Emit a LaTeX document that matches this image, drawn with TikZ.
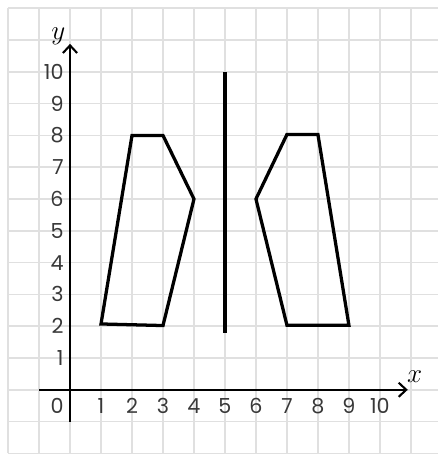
\documentclass[tikz,border=0pt]{standalone}
\usepackage{fontspec}
\setsansfont{Poppins}
\usetikzlibrary{arrows.meta}

\begin{document}
\begin{tikzpicture}[
    x=1cm, y=1.026cm,
    font=\sffamily\fontsize{19}{22}\selectfont,
    gridline/.style={draw=black!12, line width=1.4pt},
    axisline/.style={line width=1.9pt,
      -{Straight Barb[length=7pt,width=13pt,line width=1.9pt]}},
    shapeline/.style={line width=3pt, line join=miter},
    ticklabel/.style={text=black!78, inner sep=0pt},
    axisname/.style={font=\fontsize{26}{30}\selectfont, inner sep=0pt},
]
\useasboundingbox (-2.26,-2.02) rectangle (11.87,12.26);

% ---- grid ----
\foreach \i in {-2,...,11}{
  \draw[gridline] (\i,-2) -- (\i,12);
}
\foreach \j in {-2,...,12}{
  \draw[gridline] (-2,\j) -- (11.87,\j);
}

% ---- axes ----
\coordinate (xstart) at (-1,0);
\coordinate (xend) at (10.9,0);
\coordinate (ystart) at (0,-1);
\coordinate (yend) at (0,10.88);
\draw[axisline] (xstart) -- (xend);
\draw[axisline] (ystart) -- (yend);
\node[axisname] (xname) at (11.12,0.4) {$x$};
\node[axisname] (yname) at (-0.38,11.12) {$y$};

% ---- tick labels ----
\node[ticklabel] (origin) at (-0.42,-0.5) {0};
\foreach \i in {1,...,10}{
  \node[ticklabel] (xtick\i) at (\i,-0.5) {\i};
}
\foreach \j in {1,...,10}{
  \node[ticklabel, anchor=east] (ytick\j) at (-0.2,\j) {\j};
}

% ---- mirror line ----
\coordinate (mbot) at (5,1.8);
\coordinate (mtop) at (5,10);
\draw[shapeline] (mbot) -- (mtop);

% ---- left shape ----
\coordinate (la) at (1,2.07);
\coordinate (lb) at (2,8);
\coordinate (lc) at (3,8);
\coordinate (ld) at (4,6);
\coordinate (le) at (3,2.02);
\draw[shapeline] (la) -- (lb) -- (lc) -- (ld) -- (le) -- cycle;

% ---- right shape (image) ----
\coordinate (ra) at (7,2.03);
\coordinate (rb) at (6,6);
\coordinate (rc) at (7,8.03);
\coordinate (rd) at (8,8.03);
\coordinate (re) at (9,2.03);
\draw[shapeline] (ra) -- (rb) -- (rc) -- (rd) -- (re) -- cycle;

\end{tikzpicture}
\end{document}
